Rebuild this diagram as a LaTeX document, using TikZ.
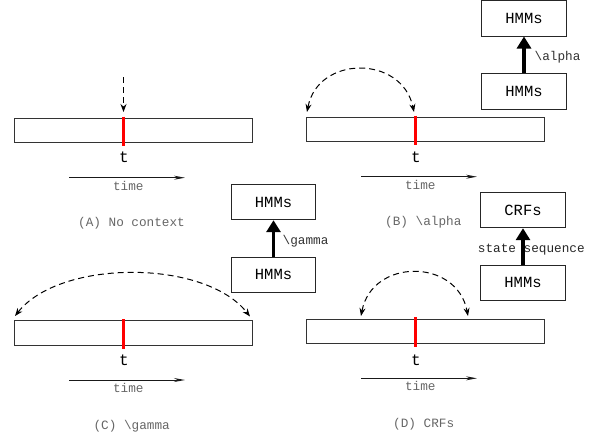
\documentclass[tikz,border=0pt]{standalone}
\usepackage{fontspec}
\setmonofont{Liberation Mono}
\usetikzlibrary{arrows.meta}
\begin{document}
\begin{tikzpicture}[x=1pt,y=-1pt,
  bar/.style={draw=black!80, line width=0.9pt, minimum width=238pt, minimum height=24.5pt, inner sep=0pt},
  hbox/.style={draw=black!85, line width=0.9pt, minimum width=84.5pt, minimum height=35.5pt, inner sep=0pt, font=\ttfamily\fontsize{15.5}{15.5}\selectfont},
  redl/.style={red, line width=2.4pt},
  ctx/.style={dash pattern=on 6pt off 4pt, line width=1pt, -{Stealth[length=8pt,width=6pt]}},
  ctx2/.style={dash pattern=on 6pt off 4pt, line width=1pt, {Stealth[length=8pt,width=6pt]}-{Stealth[length=8pt,width=6pt]}},
  tarrow/.style={line width=1pt, black!90, -{Stealth[length=11pt,width=4pt]}},
  big/.style={line width=3.6pt, -{Triangle[length=12pt,width=14pt]}},
  tlbl/.style={font=\ttfamily\fontsize{16}{16}\selectfont, inner sep=0pt},
  glbl/.style={text=black!60, font=\ttfamily\fontsize{12.7}{12.7}\selectfont, inner sep=0pt},
  albl/.style={text=black!80, font=\ttfamily\fontsize{12.7}{12.7}\selectfont, inner sep=0pt}
]
\useasboundingbox (0,0) rectangle (599,437);

% ---------- Panel A ----------
\node[bar] (barA) at (133,130.5) {};
\coordinate (rA1) at (123.5,116.5);
\coordinate (rA2) at (123.5,146);
\draw[redl] (rA1) -- (rA2);
\coordinate (inA1) at (123.5,77);
\coordinate (inA2) at (123.5,112);
\draw[ctx] (inA1) -- (inA2);
\node[tlbl] (tA) at (124,157) {t};
\coordinate (tmA1) at (69,177.7);
\coordinate (tmA2) at (185,177.7);
\draw[tarrow] (tmA1) -- (tmA2);
\node[glbl] (timeA) at (128.3,186) {time};
\node[glbl] (capA) at (131.5,223) {(A) No context};

% ---------- Panel B ----------
\node[bar] (barB) at (425,129.5) {};
\coordinate (rB1) at (415.3,115.5);
\coordinate (rB2) at (415.3,145);
\draw[redl] (rB1) -- (rB2);
\coordinate (aB1) at (307,112);
\coordinate (aB2) at (414,112);
\draw[ctx2] (aB1) .. controls (318,55) and (402,55) .. (aB2);
\node[tlbl] (tB) at (416,157) {t};
\coordinate (tmB1) at (361,176.7);
\coordinate (tmB2) at (477,176.7);
\draw[tarrow] (tmB1) -- (tmB2);
\node[glbl] (timeB) at (420.3,185) {time};
\node[glbl] (capB) at (423.3,222.7) {(B) \textbackslash alpha};
\node[hbox] (hB2) at (524,18.3) {HMMs};
\node[hbox] (hB1) at (524,91.2) {HMMs};
\draw[big] (hB1) -- (hB2);
\node[albl, anchor=west] (alB) at (534.5,57.3) {\textbackslash alpha};

% ---------- Panel C ----------
\node[bar] (barC) at (133,333) {};
\coordinate (rC1) at (123.3,319);
\coordinate (rC2) at (123.3,349);
\draw[redl] (rC1) -- (rC2);
\coordinate (aC1) at (15,316);
\coordinate (aC2) at (250,316.5);
\draw[ctx2] (aC1) .. controls (60,259) and (205,259) .. (aC2);
\node[tlbl] (tC) at (124,360) {t};
\coordinate (tmC1) at (69,380);
\coordinate (tmC2) at (185,380);
\draw[tarrow] (tmC1) -- (tmC2);
\node[glbl] (timeC) at (128.3,388) {time};
\node[glbl] (capC) at (131.7,426.7) {(C) \textbackslash gamma};
\node[hbox] (hC2) at (273.5,202) {HMMs};
\node[hbox] (hC1) at (273.5,274.8) {HMMs};
\draw[big] (hC1) -- (hC2);
\node[albl, anchor=west] (gaC) at (282.5,241.7) {\textbackslash gamma};

% ---------- Panel D ----------
\node[bar] (barD) at (425,331.2) {};
\coordinate (rD1) at (415.3,317);
\coordinate (rD2) at (415.3,346.5);
\draw[redl] (rD1) -- (rD2);
\coordinate (aD1) at (361,316);
\coordinate (aD2) at (468,316);
\draw[ctx2] (aD1) .. controls (372,258) and (457,258) .. (aD2);
\node[tlbl] (tD) at (416,360) {t};
\coordinate (tmD1) at (361,378.3);
\coordinate (tmD2) at (477,378.3);
\draw[tarrow] (tmD1) -- (tmD2);
\node[glbl] (timeD) at (420.3,386) {time};
\node[glbl] (capD) at (423.7,424) {(D) CRFs};
\node[hbox] (cD) at (523,210) {CRFs};
\node[hbox] (hD) at (523,282.8) {HMMs};
\node[albl, text=black!85] (ssD) at (531.3,249.3) {state sequence};
\draw[big] (hD) -- (cD);
\end{tikzpicture}
\end{document}
